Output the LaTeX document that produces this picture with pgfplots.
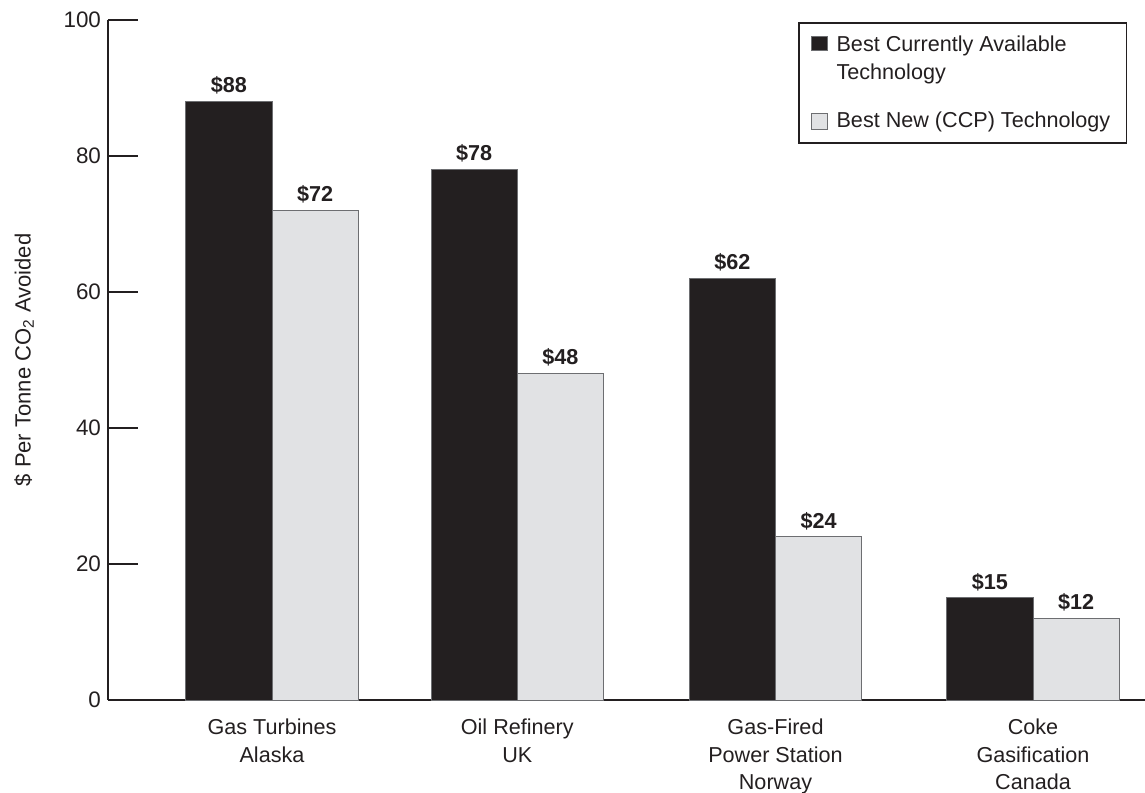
\documentclass[border=0pt]{standalone}
\usepackage{fontspec}
\setmainfont{Liberation Sans}
\usepackage{pgfplots}
\pgfplotsset{compat=1.18}
\definecolor{dark}{HTML}{231F20}
\definecolor{lightbar}{HTML}{E1E2E4}
\definecolor{edge}{HTML}{6D6E71}
\pgfplotsset{
  legimgA/.style={legend image code/.code={\draw[##1, line width=0.4pt] (0pt,14.5pt) rectangle (8pt,21.5pt);}},
  legimgB/.style={legend image code/.code={\draw[##1, line width=0.4pt] (0pt,-1pt) rectangle (8pt,7pt);}},
}
\begin{document}
\begin{tikzpicture}[font=\fontsize{10.8}{13.8}\selectfont, text=dark]
\begin{axis}[
  at={(0,0)}, anchor=south west,
  scale only axis, width=518.5pt, height=340pt,
  xmin=108, xmax=1145, ymin=0, ymax=100,
  axis x line*=bottom, axis y line*=left,
  axis line style={dark, line width=1.3pt, -},
  ytick={0,20,...,100}, ytick align=inside, major tick length=15pt,
  ytick style={dark, line width=1.3pt},
  xtick={272,517.3,775.5,1033},
  xticklabels={{Gas Turbines\\Alaska},{Oil Refinery\\UK},{Gas-Fired\\Power Station\\Norway},{Coke\\Gasification\\Canada}},
  xtick style={draw=none},
  xticklabel style={align=center, yshift=9pt, text=dark, font=\fontsize{10.8}{13.8}\selectfont},
  yticklabel style={text=dark, font=\fontsize{11.2}{13.8}\selectfont},
  /pgf/number format/assume math mode=true,
  ylabel={\$ Per Tonne CO\textsubscript{2} Avoided},
  ylabel style={at={(axis description cs:-0.081,0.5)}, anchor=center, text=dark, font=\fontsize{11}{13.8}\selectfont},
  ybar, bar width=86.3,
  nodes near coords={\$\pgfmathprintnumber{\pgfplotspointmeta}},
  nodes near coords style={font=\fontsize{10.8}{13}\selectfont\bfseries, text=dark},
  legend style={at={(rel axis cs:0.6654,0.997)}, anchor=north west, draw=dark, line width=0.75pt,
    inner xsep=6pt, inner ysep=4.5pt, row sep=10.5pt, font=\fontsize{10.8}{14}\selectfont,
    cells={anchor=base west, align=left},
    /tikz/every odd column/.append style={column sep=2.5pt}},
]
\addplot[fill=dark, draw=edge, line width=0.5pt, bar shift=-43.15, legimgA]
  coordinates {(272,88) (517.3,78) (775.5,62) (1033,15)};
\addlegendentry{Best Currently Available\\Technology}
\addplot[fill=lightbar, draw=edge, line width=0.5pt, bar shift=43.15, legimgB]
  coordinates {(272,72) (517.3,48) (775.5,24) (1033,12)};
\addlegendentry{Best New (CCP) Technology}
\end{axis}
\pgfresetboundingbox
\path[use as bounding box] (-54pt,-46pt) rectangle (518.5pt,350pt);
\end{tikzpicture}
\end{document}
